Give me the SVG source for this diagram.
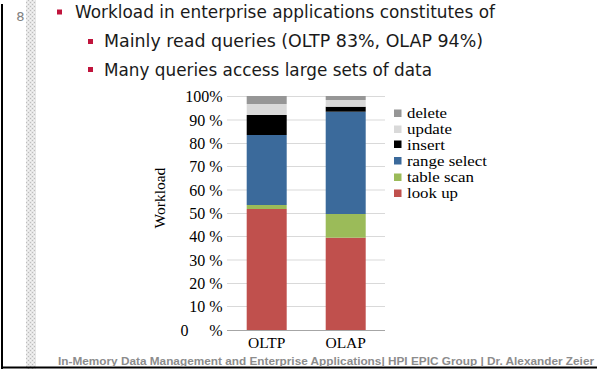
<svg xmlns="http://www.w3.org/2000/svg" width="597" height="369" viewBox="0 0 597 369">
<defs>
<pattern id="dots" width="4" height="4" patternUnits="userSpaceOnUse">
<rect width="4" height="4" fill="#e6e6e6"/>
<rect x="0" y="0" width="1" height="1" fill="#bdbdbd"/>
<rect x="2" y="2" width="1" height="1" fill="#bdbdbd"/>
<rect x="2" y="0" width="1" height="1" fill="#f4f4f4"/>
<rect x="0" y="2" width="1" height="1" fill="#f4f4f4"/>
</pattern>
<style>
.body{font-family:"DejaVu Sans","Verdana",sans-serif;fill:#1a1a1a;font-size:17px}
.bul{fill:#c0143c}
.tick{font-family:"Liberation Serif","Times New Roman",serif;font-size:16px;fill:#000;text-anchor:end}
.cat{font-family:"Liberation Serif","Times New Roman",serif;font-size:15.5px;fill:#000;text-anchor:middle}
.leg{font-family:"Liberation Serif","Times New Roman",serif;font-size:15.2px;fill:#000}
.grid{stroke:#d9d9d9;stroke-width:1}
.foot{font-family:"Liberation Sans",Arial,sans-serif;font-size:11.8px;font-weight:bold;fill:#8c8c8c}
.del{fill:#969696}.upd{fill:#d9d9d9}.ins{fill:#000}.rng{fill:#3b6a9b}.tbl{fill:#9bbb59}.lku{fill:#c0504d}
</style>
</defs>
<rect width="597" height="369" fill="#fff"/>
<g id="frame">
<rect x="26" y="0" width="10" height="369" fill="url(#dots)"/>
<rect x="1" y="4" width="2" height="365" fill="#000"/>
<rect x="1" y="366.5" width="596" height="2" fill="#000"/>
<text x="24.5" y="21" font-family="DejaVu Sans, Verdana, sans-serif" font-size="13" fill="#808080" text-anchor="end">8</text>
</g>
<g id="bullets">
<rect class="bul" x="57" y="9.5" width="5" height="5"/>
<text class="body" x="75" y="18" textLength="420" lengthAdjust="spacingAndGlyphs">Workload in enterprise applications constitutes of</text>
<rect class="bul" x="88" y="39" width="5" height="5"/>
<text class="body" x="104" y="47" textLength="379" lengthAdjust="spacingAndGlyphs">Mainly read queries (OLTP 83%, OLAP 94%)</text>
<rect class="bul" x="88" y="67" width="5" height="5"/>
<text class="body" x="104" y="76" textLength="328" lengthAdjust="spacingAndGlyphs">Many queries access large sets of data</text>
</g>
<g id="chart">
<g id="gridlines">
<line class="grid" x1="227" y1="96.5" x2="385" y2="96.5"/>
<line class="grid" x1="227" y1="120" x2="385" y2="120"/>
<line class="grid" x1="227" y1="143.5" x2="385" y2="143.5"/>
<line class="grid" x1="227" y1="166.5" x2="385" y2="166.5"/>
<line class="grid" x1="227" y1="190" x2="385" y2="190"/>
<line class="grid" x1="227" y1="213.5" x2="385" y2="213.5"/>
<line class="grid" x1="227" y1="236.5" x2="385" y2="236.5"/>
<line class="grid" x1="227" y1="260" x2="385" y2="260"/>
<line class="grid" x1="227" y1="283.5" x2="385" y2="283.5"/>
<line class="grid" x1="227" y1="306.5" x2="385" y2="306.5"/>
</g>
<g id="ticks">
<text class="tick" x="222.5" y="102">100%</text>
<text class="tick" x="222.5" y="125.5">90 %</text>
<text class="tick" x="222.5" y="149">80 %</text>
<text class="tick" x="222.5" y="172">70 %</text>
<text class="tick" x="222.5" y="195.5">60 %</text>
<text class="tick" x="222.5" y="219">50 %</text>
<text class="tick" x="222.5" y="242">40 %</text>
<text class="tick" x="222.5" y="265.5">30 %</text>
<text class="tick" x="222.5" y="289">20 %</text>
<text class="tick" x="222.5" y="312">10 %</text>
<text class="tick" x="188.5" y="335.5">0</text>
<text class="tick" x="222.5" y="335.5">%</text>
</g>
<text id="ytitle" transform="translate(165,198) rotate(-90)" font-family="Liberation Serif, Times New Roman, serif" font-size="15.5" text-anchor="middle" fill="#000">Workload</text>
<g id="bar-oltp">
<rect class="lku" x="246.7" y="209" width="40" height="121"/>
<rect class="tbl" x="246.7" y="205" width="40" height="4"/>
<rect class="rng" x="246.7" y="135" width="40" height="70"/>
<rect class="ins" x="246.7" y="115" width="40" height="20"/>
<rect class="upd" x="246.7" y="104" width="40" height="11"/>
<rect class="del" x="246.7" y="96" width="40" height="8"/>
</g>
<g id="bar-olap">
<rect class="lku" x="325.7" y="237.7" width="40" height="92.3"/>
<rect class="tbl" x="325.7" y="214" width="40" height="23.7"/>
<rect class="rng" x="325.7" y="111.7" width="40" height="102.3"/>
<rect class="ins" x="325.7" y="106.7" width="40" height="5"/>
<rect class="upd" x="325.7" y="100" width="40" height="6.7"/>
<rect class="del" x="325.7" y="96" width="40" height="4"/>
</g>
<line x1="227" y1="330.5" x2="385" y2="330.5" stroke="#a6a6a6" stroke-width="1"/>
<text class="cat" x="266.7" y="348">OLTP</text>
<text class="cat" x="345.7" y="348">OLAP</text>
<g id="legend">
<rect class="del" x="394" y="109.5" width="7.5" height="7.5"/>
<text class="leg" x="407" y="118" textLength="40" lengthAdjust="spacingAndGlyphs">delete</text>
<rect class="upd" x="394" y="125.5" width="7.5" height="7.5"/>
<text class="leg" x="407" y="134" textLength="45" lengthAdjust="spacingAndGlyphs">update</text>
<rect class="ins" x="394" y="140.5" width="7.5" height="7.5"/>
<text class="leg" x="407" y="149.5" textLength="38" lengthAdjust="spacingAndGlyphs">insert</text>
<rect class="rng" x="394" y="157" width="7.5" height="7.5"/>
<text class="leg" x="407" y="166" textLength="80" lengthAdjust="spacingAndGlyphs">range select</text>
<rect class="tbl" x="394" y="173.5" width="7.5" height="7.5"/>
<text class="leg" x="407" y="182" textLength="67" lengthAdjust="spacingAndGlyphs">table scan</text>
<rect class="lku" x="394" y="189.5" width="7.5" height="7.5"/>
<text class="leg" x="407" y="198" textLength="51" lengthAdjust="spacingAndGlyphs">look up</text>
</g>
</g>
<text id="footer" class="foot" x="58" y="364.5">In-Memory Data Management and Enterprise Applications| HPI EPIC Group | Dr. Alexander Zeier</text>
</svg>
